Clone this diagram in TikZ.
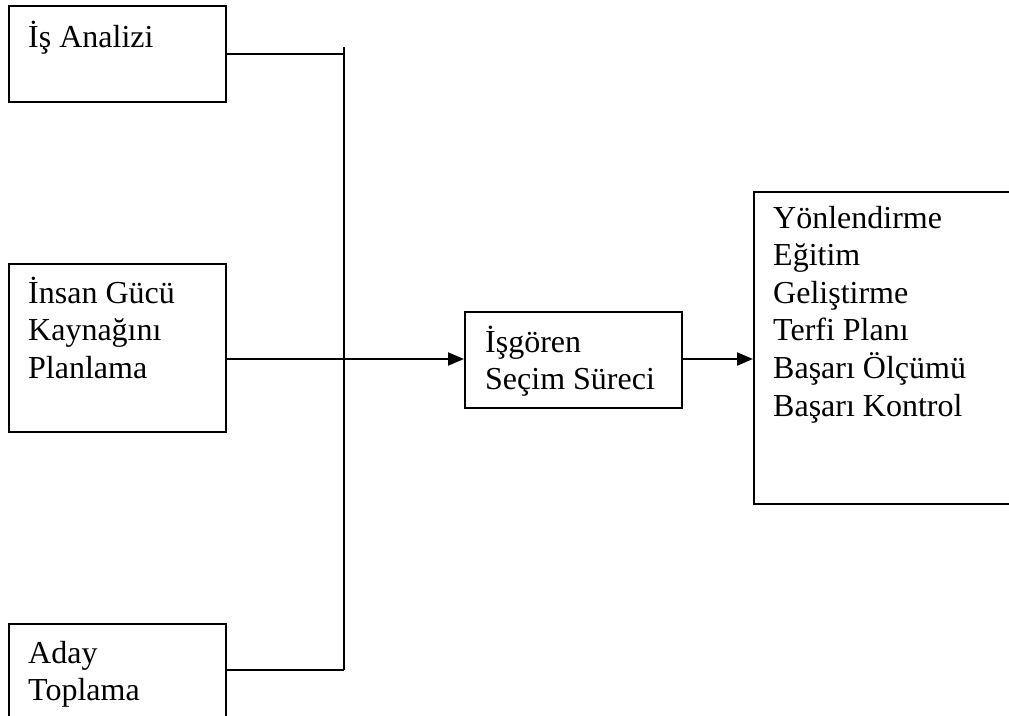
\documentclass[tikz,border=0pt]{standalone}
\usepackage{fontspec}
\setmainfont{Liberation Serif}
\usetikzlibrary{arrows.meta}
\begin{document}
\begin{tikzpicture}[x=1pt,y=-1pt,
  box/.style={draw=black,line width=2pt,rectangle,inner sep=0pt,anchor=north west},
  txt/.style={anchor=base west,inner sep=0pt,font=\fontsize{32}{37.6}\selectfont},
  conn/.style={draw=black,line width=2pt},
  arr/.style={conn,-{Triangle[length=16pt,width=13pt]}}]
\useasboundingbox (0,0) rectangle (1009,715);
% boxes
\node[box,minimum width=217pt,minimum height=96pt] (b1) at (8,5) {};
\node[box,minimum width=217pt,minimum height=168pt] (b2) at (8,263) {};
\node[box,minimum width=217pt,minimum height=110pt] (b3) at (8,623) {};
\node[box,minimum width=217pt,minimum height=96pt] (b4) at (464,311) {};
\node[box,minimum width=270pt,minimum height=312pt] (b5) at (753,191) {};
% texts
\node[txt] (t1) at (28,47) {İş Analizi};
\node[txt] (t2) at (28,303) {\begin{tabular}[t]{@{}l@{}}İnsan Gücü\\Kaynağını\\Planlama\end{tabular}};
\node[txt] (t3) at (28,663) {\begin{tabular}[t]{@{}l@{}}Aday\\Toplama\end{tabular}};
\node[txt] (t4) at (485,352) {\begin{tabular}[t]{@{}l@{}}İşgören\\Seçim Süreci\end{tabular}};
\node[txt] (t5) at (773,228) {\begin{tabular}[t]{@{}l@{}}Yönlendirme\\Eğitim\\Geliştirme\\Terfi Planı\\Başarı Ölçümü\\Başarı Kontrol\end{tabular}};
% junction coordinates
\coordinate (stop) at (344,47);
\coordinate (j1) at (344,54);
\coordinate (j2) at (344,359);
\coordinate (j3) at (344,670);
% connectors
\draw[conn] (stop) -- (j3);
\draw[conn] (b1.east |- j1) -- (j1);
\draw[conn] (b3.east |- j3) -- (j3);
\draw[arr] (b2.east |- j2) -- (b4.west |- j2);
\draw[arr] (b4.east |- j2) -- (b5.west |- j2);
\end{tikzpicture}
\end{document}
